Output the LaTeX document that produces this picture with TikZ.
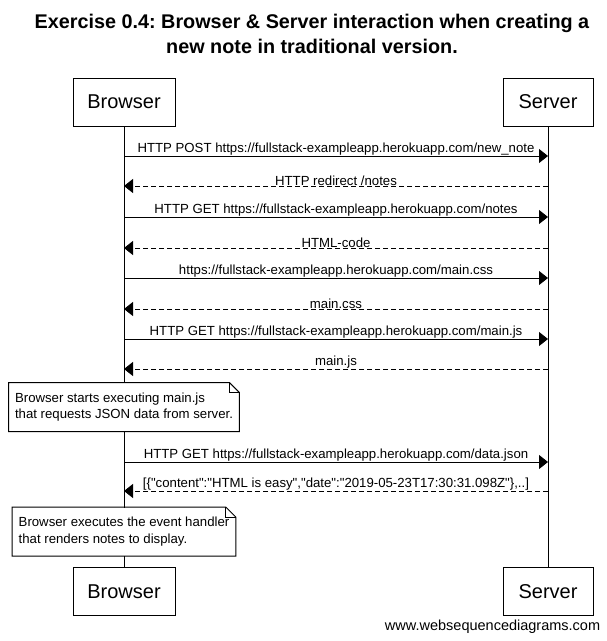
\documentclass[tikz,border=0pt]{standalone}
\usepackage{fontspec}
\newfontfamily\wsd{Liberation Sans}
\usetikzlibrary{arrows.meta}
\frenchspacing

\begin{document}
\begin{tikzpicture}[x=1pt, y=-1pt, line width=1pt,
    actor/.style = {draw, fill=white, minimum height=48pt, font=\wsd\fontsize{20}{24}\selectfont},
    msg/.style = {-{Triangle[length=9pt, width=14pt]}},
    ret/.style = {msg, dash pattern=on 5pt off 3pt},
    lbl/.style = {above, inner sep=0pt, font=\wsd\fontsize{13.2}{16}\selectfont},
    note/.style = {fill=white, align=left, inner xsep=6pt, minimum height=48pt, font=\wsd\fontsize{13.2}{16.5}\selectfont}]
    \useasboundingbox (0,0) rectangle (607,641);

    % title
    \node[align=center, font=\wsd\bfseries\fontsize{19.8}{25}\selectfont] (title) at (312,34)
        {Exercise 0.4: Browser \& Server interaction when creating a\\new note in traditional version.};

    % participants and lifelines
    \node[actor, minimum width=102pt] (btop) at (124,102) {Browser};
    \node[actor, minimum width=90pt] (stop) at (548,102) {Server};
    \node[actor, minimum width=102pt] (bbot) at (124,591.5) {Browser};
    \node[actor, minimum width=90pt] (sbot) at (548,591.5) {Server};
    \draw (btop) -- (bbot);
    \draw (stop) -- (sbot);

    % message heights on both lifelines
    \foreach \i/\y in {1/156, 2/186, 3/217, 4/248, 5/278, 6/309, 7/339, 8/369, 9/462, 10/491} {
        \coordinate (b\i) at (124,\y);
        \coordinate (s\i) at (548,\y);
    }

    \draw[msg] (b1) -- node[lbl] {HTTP POST https://fullstack-exampleapp.herokuapp.com/new\_note} (s1);
    \draw[ret] (s2) -- node[lbl] {HTTP redirect /notes} (b2);
    \draw[msg] (b3) -- node[lbl] {HTTP GET https://fullstack-exampleapp.herokuapp.com/notes} (s3);
    \draw[ret] (s4) -- node[lbl] {HTML-code} (b4);
    \draw[msg] (b5) -- node[lbl] {https://fullstack-exampleapp.herokuapp.com/main.css} (s5);
    \draw[ret] (s6) -- node[lbl] {main.css} (b6);
    \draw[msg] (b7) -- node[lbl] {HTTP GET https://fullstack-exampleapp.herokuapp.com/main.js} (s7);
    \draw[ret] (s8) -- node[lbl] {main.js} (b8);
    \draw[msg] (b9) -- node[lbl] {HTTP GET https://fullstack-exampleapp.herokuapp.com/data.json} (s9);
    \draw[ret] (s10) -- node[lbl] {[\{"content":"HTML is easy","date":"2019-05-23T17:30:31.098Z"\},..]} (b10);

    % notes
    \node[note] (n1) at (124,407) {Browser starts executing main.js\\that requests JSON data from server.};
    \node[note] (n2) at (124,531.5) {Browser executes the event handler\\that renders notes to display.};
    \foreach \n in {n1, n2} {
        \draw (\n.north west) -- ([xshift=-10pt]\n.north east) -- ([yshift=-10pt]\n.north east)
            -- (\n.south east) -- (\n.south west) -- cycle;
        \draw[line width=0.6pt] ([xshift=-10pt]\n.north east) -- ([xshift=-10pt, yshift=-10pt]\n.north east)
            -- ([yshift=-10pt]\n.north east);
    }

    \node[anchor=east, font=\wsd\fontsize{14.5}{16}\selectfont] (site) at (604,627) {www.websequencediagrams.com};
\end{tikzpicture}
\end{document}
